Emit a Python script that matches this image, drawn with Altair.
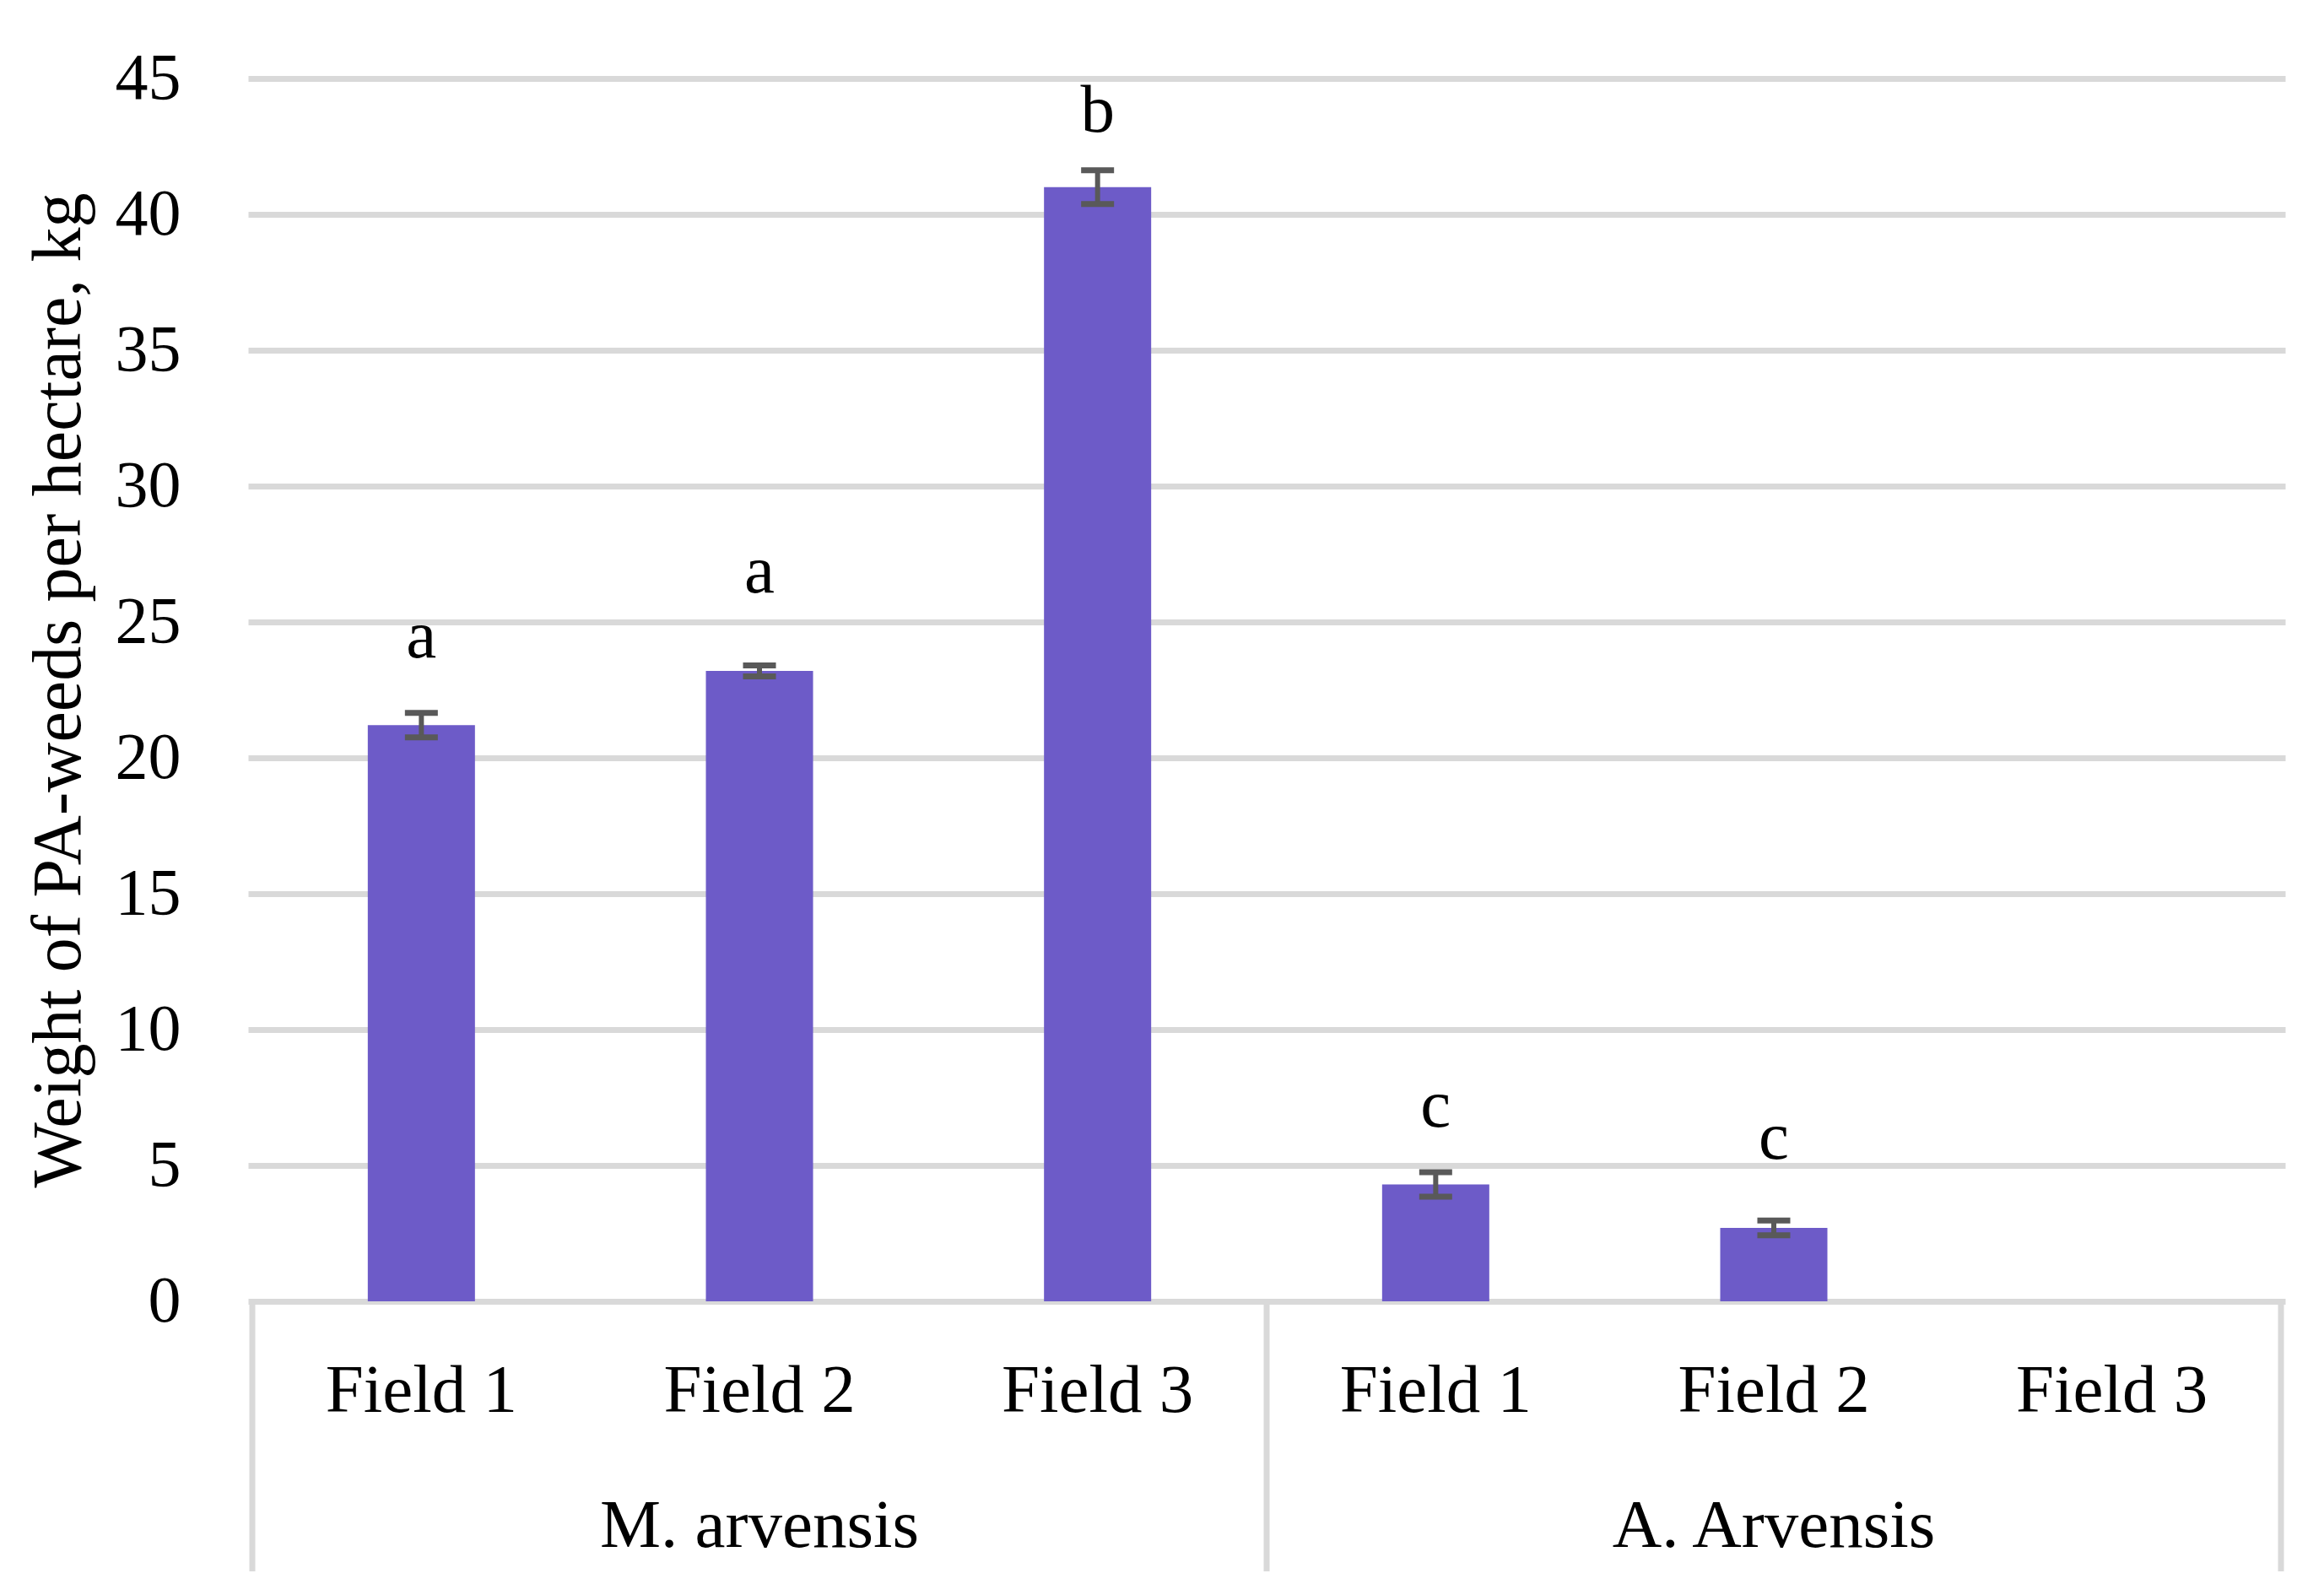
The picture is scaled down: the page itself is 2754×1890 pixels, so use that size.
import altair as alt
import pandas as pd

species = ["M. arvensis", "M. arvensis", "M. arvensis", "A. Arvensis", "A. Arvensis", "A. Arvensis"]
fields = ["Field 1", "Field 2", "Field 3", "Field 1", "Field 2", "Field 3"]
values = [21.2, 23.2, 41.0, 4.3, 2.7, 0.0]
errors = [0.45, 0.2, 0.62, 0.45, 0.27, 0.0]
letters = ["a", "a", "b", "c", "c", ""]
letter_y = [23.7, 26.1, 43.05, 6.43, 5.25, 0.0]
group_names = ["M. arvensis", "A. Arvensis"]
group_centers = [1.5, 4.5]
separators = [0, 3, 6]
y_ticks = [0, 5, 10, 15, 20, 25, 30, 35, 40, 45]

W, H = 2414, 1449
FONT = "Liberation Serif"
FS = 78
FS_CAT = 81
FS_TITLE = 82
BAR = "#6D5BC8"
ERR = "#595959"
GRID = "#D9D9D9"

df = pd.DataFrame({
    "species": species,
    "field": fields,
    "value": values,
    "err": errors,
    "letter": letters,
    "ly": letter_y,
})
df["pos"] = [i + 0.5 for i in range(len(df))]
df["lo"] = df["value"] - df["err"]
df["hi"] = df["value"] + df["err"]

xs = alt.Scale(domain=[0, 6], nice=False, zero=False)
ys = alt.Scale(domain=[0, 45], nice=False)

base = alt.Chart(df)

bars = base.mark_bar(color=BAR, size=127).encode(
    x=alt.X("pos:Q", scale=xs, axis=None),
    y=alt.Y("value:Q", scale=ys,
            axis=alt.Axis(values=y_ticks, grid=True, gridColor=GRID, gridWidth=7,
                          domain=False, ticks=False, labelFont=FONT, labelFontSize=FS,
                          labelColor="black", labelPadding=80,
                          title="Weight of PA-weeds per hectare, kg",
                          titleFont=FONT, titleFontSize=FS_TITLE, titleFontWeight="normal",
                          titleColor="black", titleAngle=270, titleBaseline="alphabetic",
                          titleAlign="center", titleX=-200, titleY=H / 2)),
)

err_rule = base.transform_filter("datum.err > 0").mark_rule(color=ERR, strokeWidth=6).encode(
    x=alt.X("pos:Q", scale=xs),
    y=alt.Y("lo:Q", scale=ys),
    y2="hi:Q",
)
cap_hi = base.transform_filter("datum.err > 0").mark_tick(
    color=ERR, orient="horizontal", size=39, thickness=7, opacity=1).encode(
    x=alt.X("pos:Q", scale=xs),
    y=alt.Y("hi:Q", scale=ys),
)
cap_lo = base.transform_filter("datum.err > 0").mark_tick(
    color=ERR, orient="horizontal", size=39, thickness=7, opacity=1).encode(
    x=alt.X("pos:Q", scale=xs),
    y=alt.Y("lo:Q", scale=ys),
)

letter_txt = base.transform_filter("datum.letter != ''").mark_text(
    font=FONT, fontSize=FS_CAT, color="black", baseline="alphabetic", align="center").encode(
    x=alt.X("pos:Q", scale=xs),
    y=alt.Y("ly:Q", scale=ys),
    text="letter:N",
)

field_txt = base.mark_text(
    font=FONT, fontSize=FS_CAT, color="black", baseline="alphabetic", align="center").encode(
    x=alt.X("pos:Q", scale=xs),
    y=alt.value(H + 131),
    text="field:N",
)

gdf = pd.DataFrame({"g": group_names, "gx": group_centers})
group_txt = alt.Chart(gdf).mark_text(
    font=FONT, fontSize=FS_CAT, color="black", baseline="alphabetic", align="center").encode(
    x=alt.X("gx:Q", scale=xs),
    y=alt.value(H + 291),
    text="g:N",
)

sdf = pd.DataFrame({"sx": separators})
sep = alt.Chart(sdf).mark_rule(color=GRID, strokeWidth=7).encode(
    x=alt.X("sx:Q", scale=xs),
    y=alt.value(H),
    y2=alt.value(H + 320),
)

chart = alt.layer(bars, sep, err_rule, cap_hi, cap_lo, letter_txt, field_txt, group_txt).properties(
    width=W, height=H,
    padding={"left": 286, "top": 85, "right": 30, "bottom": 330},
    autosize=alt.AutoSizeParams(type="none"),
    background="white",
).configure_view(stroke=None)

chart.save("out.html", embed_options={"renderer": "svg", "actions": False})
